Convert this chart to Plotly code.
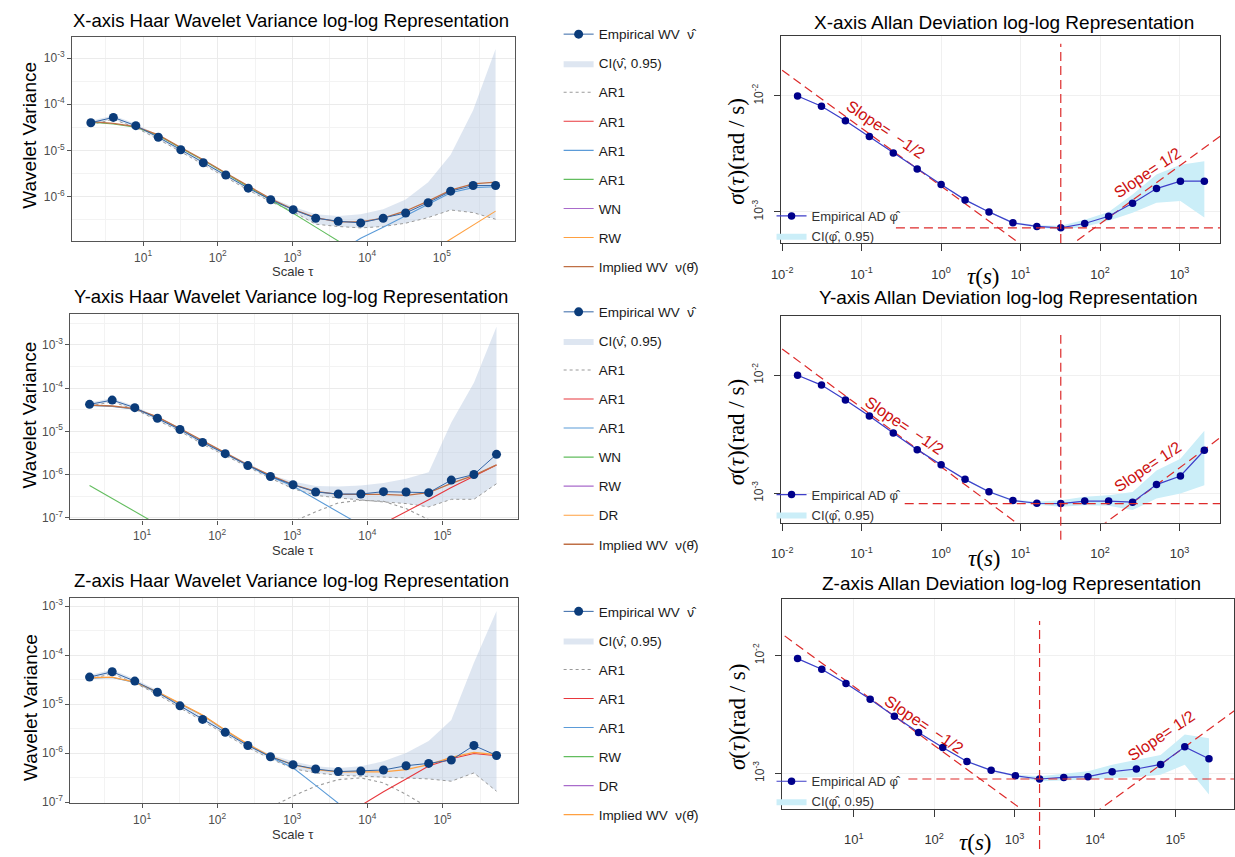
import math
import plotly.graph_objects as go

W, H = 1235, 857


def fx(p):
    """pixel column -> paper x"""
    return p / W


def fy(p):
    """pixel row -> paper y"""
    return 1 - p / H


SANS = "Liberation Sans, Arial, sans-serif"
SERIF = "Liberation Serif, Times New Roman, serif"

# ------------------------------------------------------------------
# Haar wavelet variance (left column)
# ------------------------------------------------------------------
scales = [2, 4, 8, 16, 32, 64, 128, 256, 512, 1024, 2048, 4096, 8192,
          16384, 32768, 65536, 131072, 262144, 524288]

# X axis gyro
wvx_emp = [3.98e-5, 5.19e-5, 3.43e-5, 1.92e-5, 1.03e-5, 5.39e-6, 2.92e-6, 1.51e-6, 8.46e-7,
           5.15e-7, 3.36e-7, 2.89e-7, 2.66e-7, 3.36e-7, 4.37e-7, 7.29e-7, 1.30e-6, 1.72e-6, 1.72e-6]
wvx_lo = [3.61e-5, 4.70e-5, 3.11e-5, 1.74e-5, 9.29e-6, 4.89e-6, 2.65e-6, 1.37e-6, 7.66e-7,
          4.67e-7, 2.49e-7, 2.22e-7, 2.07e-7, 2.22e-7, 2.62e-7, 3.47e-7, 5.07e-7, 4.45e-7, 3.19e-7]
wvx_hi = [4.40e-5, 5.73e-5, 3.79e-5, 2.12e-5, 1.13e-5, 5.96e-6, 3.23e-6, 1.67e-6, 9.33e-7,
          5.98e-7, 4.09e-7, 3.77e-7, 4.09e-7, 5.24e-7, 8.61e-7, 2.03e-6, 8.02e-6, 7.46e-5, 1.59e-3]
wvx_implied = [4.19e-5, 3.85e-5, 3.27e-5, 2.16e-5, 1.15e-5, 6.25e-6, 3.23e-6, 1.67e-6, 8.89e-7,
               5.24e-7, 3.47e-7, 2.80e-7, 2.80e-7, 3.36e-7, 4.82e-7, 7.93e-7, 1.37e-6, 1.87e-6, 2.03e-6]
wvx_ar1_a = [None] * 11 + [3.0e-8, 5.0e-8, 7.0e-8, 8.0e-8, 7.0e-8, 5.0e-8, None, None]
wvx_ar1_b = [None] * 6 + [2.0e-8, 3.5e-8, 5.0e-8, 5.5e-8, 4.5e-8, 3.0e-8] + [None] * 7
wvx_ar1_c = [None] * 10 + [3.1e-8, 6.2e-8, 1.23e-7, 2.15e-7, 3.83e-7, 6.93e-7, 1.20e-6, 1.55e-6, 1.62e-6]
wvx_ar1_d = [4.07e-5, 3.73e-5, 3.17e-5, 2.10e-5, 1.12e-5, 6.06e-6, 3.13e-6, 1.62e-6, 8.51e-7,
             4.30e-7, 2.15e-7, 1.07e-7, 5.4e-8, 2.7e-8] + [None] * 5
wvx_wn = [6.0e-8, 3.0e-8, 1.5e-8] + [None] * 16
wvx_rw = [None] * 14 + [2.9e-8, 5.8e-8, 1.15e-7, 2.37e-7, 4.79e-7]

# Y axis gyro
wvy_emp = [4.20e-5, 5.27e-5, 3.52e-5, 2.00e-5, 1.10e-5, 5.53e-6, 3.04e-6, 1.61e-6, 9.01e-7,
           5.80e-7, 3.94e-7, 3.54e-7, 3.54e-7, 4.01e-7, 3.94e-7, 3.80e-7, 7.43e-7, 1.00e-6, 2.93e-6]
wvy_lo = [3.83e-5, 4.80e-5, 3.21e-5, 1.82e-5, 1.00e-5, 5.04e-6, 2.77e-6, 1.47e-6, 8.20e-7,
          4.70e-7, 3.30e-7, 2.87e-7, 2.54e-7, 2.32e-7, 2.13e-7, 1.78e-7, 2.67e-7, 2.67e-7, 6.12e-7]
wvy_hi = [4.62e-5, 5.80e-5, 3.87e-5, 2.20e-5, 1.21e-5, 6.08e-6, 3.34e-6, 1.77e-6, 9.90e-7,
          6.92e-7, 5.41e-7, 5.31e-7, 5.60e-7, 6.34e-7, 7.96e-7, 1.13e-6, 1.60e-5, 1.32e-4, 2.64e-3]
wvy_implied = [4.05e-5, 3.85e-5, 3.33e-5, 2.15e-5, 1.16e-5, 6.04e-6, 3.26e-6, 1.67e-6, 9.51e-7,
               5.81e-7, 4.08e-7, 3.48e-7, 3.48e-7, 3.48e-7, 3.30e-7, 3.80e-7, 6.22e-7, 9.51e-7, 1.67e-6]
wvy_ar1_a = [None] * 8 + [4.0e-8, 8.1e-8, 1.37e-7, 2.20e-7, 2.54e-7, 2.40e-7, 1.63e-7, 9.1e-8, 5.0e-8] + [None] * 2
wvy_ar1_b = [None] * 11 + [2.6e-8, 4.9e-8, 7.4e-8, 1.37e-7, 2.6e-7, 5.0e-7, 9.0e-7, 1.67e-6]
wvy_ar1_c = [3.97e-5, 3.77e-5, 3.26e-5, 2.11e-5, 1.13e-5, 5.90e-6, 3.17e-6, 1.62e-6, 8.90e-7,
             5.40e-7, 2.70e-7, 1.35e-7, 6.8e-8] + [None] * 6
wvy_wn = [5.6e-7, 2.8e-7, 1.4e-7, 7.0e-8, 3.5e-8] + [None] * 14
wvy_rw = [None] * 16 + [2.0e-8, 4.0e-8, 8.0e-8]
wvy_dr = [None] * 17 + [1.5e-8, 6.0e-8]

# Z axis gyro
wvz_emp = [3.55e-5, 4.55e-5, 2.94e-5, 1.74e-5, 9.20e-6, 4.87e-6, 2.65e-6, 1.43e-6, 8.44e-7,
           5.80e-7, 4.74e-7, 4.19e-7, 4.32e-7, 4.52e-7, 5.53e-7, 6.17e-7, 7.21e-7, 1.43e-6, 8.95e-7]
wvz_lo = [3.23e-5, 4.14e-5, 2.68e-5, 1.58e-5, 8.37e-6, 4.43e-6, 2.41e-6, 1.30e-6, 7.68e-7,
          4.81e-7, 3.94e-7, 3.53e-7, 3.37e-7, 3.26e-7, 3.12e-7, 2.97e-7, 2.67e-7, 3.94e-7, 1.67e-7]
wvz_hi = [3.91e-5, 5.00e-5, 3.23e-5, 1.91e-5, 1.01e-5, 5.36e-6, 2.92e-6, 1.57e-6, 9.28e-7,
          6.78e-7, 5.37e-7, 4.97e-7, 5.37e-7, 6.78e-7, 1.00e-6, 1.77e-6, 4.72e-6, 7.00e-5, 7.92e-4]
wvz_implied = [3.44e-5, 3.55e-5, 2.81e-5, 1.77e-5, 1.03e-5, 5.96e-6, 2.96e-6, 1.52e-6, 8.55e-7,
               5.80e-7, 4.59e-7, 4.12e-7, 4.12e-7, 4.12e-7, 4.59e-7, 5.80e-7, 8.17e-7, 1.03e-6, 9.25e-7]
wvz_ar1_a = [None] * 7 + [3.5e-8, 7.8e-8, 1.33e-7, 2.11e-7, 2.88e-7, 3.12e-7, 2.47e-7, 1.44e-7, 7.7e-8, 3.5e-8] + [None] * 2
wvz_ar1_b = [None] * 11 + [4.5e-8, 8.7e-8, 1.62e-7, 2.97e-7, 5.45e-7, 7.67e-7, 9.8e-7, 8.8e-7]
wvz_ar1_c = [3.37e-5, 3.48e-5, 2.75e-5, 1.73e-5, 1.01e-5, 5.84e-6, 2.90e-6, 1.49e-6, 8.30e-7,
             5.00e-7, 2.19e-7, 9.5e-8, 4.5e-8] + [None] * 6
wvz_rw = [None] * 16 + [1.5e-8, 3.0e-8, 6.0e-8]
wvz_dr = [None] * 17 + [1.0e-8, 4.0e-8]

# ------------------------------------------------------------------
# Allan deviation (right column)
# ------------------------------------------------------------------
ad_tau = [0.015625, 0.03125, 0.0625, 0.125, 0.25, 0.5, 1, 2, 4, 8, 16, 32, 64, 128,
          256, 512, 1024, 2048]
adz_tau = [2, 4, 8, 16, 32, 64, 128, 256, 512, 1024, 2048, 4096, 8192, 16384, 32768,
           65536, 131072, 262144]

adx = [0.0100, 0.00816, 0.00611, 0.00446, 0.00322, 0.00234, 0.00172, 0.00127, 0.00100,
       0.000805, 0.000750, 0.000730, 0.000794, 0.000918, 0.001186, 0.00159, 0.00184, 0.00184]
adx_lo = [0.00992, 0.00809, 0.00605, 0.00441, 0.00318, 0.00231, 0.00170, 0.00125, 0.000985,
          0.000789, 0.000735, 0.000702, 0.000745, 0.000838, 0.000986, 0.001202, 0.001241, 0.000896]
adx_hi = [0.01008, 0.00823, 0.00617, 0.00451, 0.00326, 0.00237, 0.00174, 0.00129, 0.001015,
          0.000821, 0.000767, 0.000759, 0.000855, 0.001000, 0.001416, 0.002099, 0.002553, 0.002729]

ady = [0.0100, 0.00824, 0.00617, 0.00452, 0.00323, 0.00234, 0.00174, 0.00131, 0.00103,
       0.000867, 0.000822, 0.000816, 0.000857, 0.000857, 0.000840, 0.001183, 0.001400, 0.002313]
ady_lo = [0.00992, 0.00817, 0.00611, 0.00447, 0.00319, 0.00231, 0.00172, 0.00129, 0.00101,
          0.000850, 0.000800, 0.000767, 0.000792, 0.000783, 0.000719, 0.000902, 0.000993, 0.001167]
ady_hi = [0.01008, 0.00831, 0.00623, 0.00457, 0.00327, 0.00237, 0.00176, 0.00133, 0.00105,
          0.000884, 0.000845, 0.000873, 0.000931, 0.000962, 0.001026, 0.00156, 0.001954, 0.00338]

adz = [0.00944, 0.00767, 0.00581, 0.00426, 0.00306, 0.00222, 0.00166, 0.00126, 0.00106,
       0.000955, 0.000895, 0.000924, 0.000937, 0.001033, 0.001088, 0.001191, 0.001679, 0.001330]
adz_lo = [0.00936, 0.00760, 0.00575, 0.00421, 0.00302, 0.00219, 0.00164, 0.00124, 0.00104,
          0.000935, 0.000857, 0.000868, 0.000885, 0.000914, 0.000925, 0.000975, 0.001184, 0.000661]
adz_hi = [0.00952, 0.00774, 0.00587, 0.00431, 0.00310, 0.00225, 0.00168, 0.00128, 0.00108,
          0.000975, 0.000944, 0.000987, 0.001040, 0.001184, 0.001303, 0.001435, 0.002143, 0.001986]

# coefficients of the slope -1/2 (white noise) and +1/2 (rate random walk) guide lines
arw_coef = {"x": 0.001667, "y": 0.00167, "z": 0.0173}
rrw_coef = {"x": 7.9e-5, "y": 5.19e-5, "z": 4.62e-6}
arw_span = {"x": [0.01, 100], "y": [0.01, 100], "z": [1, 1e4]}
rrw_span = {"x": [10, 1e4], "y": [10, 1e4], "z": [1e3, 1e6]}

# ------------------------------------------------------------------
C_EMP_M = "#0B3C7A"
C_EMP_L = "#3566A6"
C_CI = "rgba(176,196,222,0.42)"
C_GRAY = "#9a9a9a"
C_RED = "#E8373D"
C_BLUE = "#5B9BD8"
C_GREEN = "#62BD5E"
C_PURPLE = "#A96BCB"
C_ORANGE = "#FFA040"
C_BROWN = "#BF6F45"

C_AD_L = "#3E3EC9"
C_AD_M = "#00008B"
C_AD_CI = "#CBEEF8"
C_DASH = "#DD2B2B"
C_SLOPE_TXT = "#CC1111"

fig = go.Figure()


def ids(n):
    return ("x", "y") if n == 1 else (f"x{n}", f"y{n}")


def wv_panel(n, leg, emp, lo, hi, parts, implied, implied_color):
    xa, ya = ids(n)
    g = f"{leg}-ci"
    fig.add_trace(go.Scatter(x=scales, y=lo, mode="lines", xaxis=xa, yaxis=ya,
                             line=dict(color=C_GRAY, width=1, dash="dot"),
                             showlegend=False, legend=leg, legendgroup=g, hoverinfo="skip"))
    fig.add_trace(go.Scatter(x=scales, y=hi, mode="lines", xaxis=xa, yaxis=ya,
                             line=dict(width=0, color=C_CI), fill="tonexty", fillcolor=C_CI,
                             name="CI(ν̂, 0.95)", legend=leg, legendgroup=g, legendrank=2))
    for i, (name, color, vals, dash) in enumerate(parts):
        fig.add_trace(go.Scatter(x=scales, y=vals, mode="lines", xaxis=xa, yaxis=ya,
                                 line=dict(color=color, width=1.1, dash=dash),
                                 name=name, legend=leg, legendgroup=f"{leg}-p{i}",
                                 legendrank=3 + i))
    fig.add_trace(go.Scatter(x=scales, y=implied, mode="lines", xaxis=xa, yaxis=ya,
                             line=dict(color=implied_color, width=1.3),
                             name="Implied WV  ν(θ̂)", legend=leg, legendgroup=f"{leg}-imp",
                             legendrank=20))
    fig.add_trace(go.Scatter(x=scales, y=emp, mode="lines+markers", xaxis=xa, yaxis=ya,
                             line=dict(color=C_EMP_L, width=1),
                             marker=dict(color=C_EMP_M, size=9),
                             name="Empirical WV  ν̂", legend=leg, legendgroup=f"{leg}-emp",
                             legendrank=1))


def ad_panel(n, leg, key, tau, vals, lo, hi):
    xa, ya = ids(n)
    fig.add_trace(go.Scatter(x=tau, y=lo, mode="lines", xaxis=xa, yaxis=ya,
                             line=dict(width=0, color=C_AD_CI), showlegend=False,
                             legend=leg, hoverinfo="skip"))
    fig.add_trace(go.Scatter(x=tau, y=hi, mode="lines", xaxis=xa, yaxis=ya,
                             line=dict(width=0, color=C_AD_CI), fill="tonexty",
                             fillcolor=C_AD_CI, name="CI(φ̂, 0.95)", legend=leg, legendrank=2))
    a = arw_coef[key]
    t = arw_span[key]
    fig.add_trace(go.Scatter(x=t, y=[a * v ** -0.5 for v in t], mode="lines",
                             xaxis=xa, yaxis=ya, showlegend=False,
                             line=dict(color=C_DASH, width=1.2, dash="9px,5px")))
    b = rrw_coef[key]
    t = rrw_span[key]
    fig.add_trace(go.Scatter(x=t, y=[b * v ** 0.5 for v in t], mode="lines",
                             xaxis=xa, yaxis=ya, showlegend=False,
                             line=dict(color=C_DASH, width=1.2, dash="9px,5px")))
    fig.add_trace(go.Scatter(x=tau, y=vals, mode="lines+markers", xaxis=xa, yaxis=ya,
                             line=dict(color=C_AD_L, width=1.2),
                             marker=dict(color=C_AD_M, size=7.5),
                             name="Empirical AD φ̂", legend=leg, legendrank=1))


wv_panel(1, "legend", wvx_emp, wvx_lo, wvx_hi,
         [("AR1", C_GRAY, wvx_ar1_a, "dot"), ("AR1", C_RED, wvx_ar1_b, "solid"),
          ("AR1", C_BLUE, wvx_ar1_c, "solid"), ("AR1", C_GREEN, wvx_ar1_d, "solid"),
          ("WN", C_PURPLE, wvx_wn, "solid"), ("RW", C_ORANGE, wvx_rw, "solid")],
         wvx_implied, C_BROWN)
wv_panel(3, "legend3", wvy_emp, wvy_lo, wvy_hi,
         [("AR1", C_GRAY, wvy_ar1_a, "dot"), ("AR1", C_RED, wvy_ar1_b, "solid"),
          ("AR1", C_BLUE, wvy_ar1_c, "solid"), ("WN", C_GREEN, wvy_wn, "solid"),
          ("RW", C_PURPLE, wvy_rw, "solid"), ("DR", C_ORANGE, wvy_dr, "solid")],
         wvy_implied, C_BROWN)
wv_panel(5, "legend5", wvz_emp, wvz_lo, wvz_hi,
         [("AR1", C_GRAY, wvz_ar1_a, "dot"), ("AR1", C_RED, wvz_ar1_b, "solid"),
          ("AR1", C_BLUE, wvz_ar1_c, "solid"), ("RW", C_GREEN, wvz_rw, "solid"),
          ("DR", C_PURPLE, wvz_dr, "solid")],
         wvz_implied, C_ORANGE)

ad_panel(2, "legend2", "x", ad_tau, adx, adx_lo, adx_hi)
ad_panel(4, "legend4", "y", ad_tau, ady, ady_lo, ady_hi)
ad_panel(6, "legend6", "z", adz_tau, adz, adz_lo, adz_hi)

# ------------------------------------------------------------------
# axes
# ------------------------------------------------------------------
def sup_labels(exps):
    return [f"10<sup>{e}</sup>" for e in exps]


layout = dict(width=W, height=H, margin=dict(l=0, r=0, t=0, b=0),
              paper_bgcolor="white", plot_bgcolor="white", showlegend=True,
              font=dict(family=SANS, color="#1a1a1a"))

# left column panel boxes (pixels): left, right, top, bottom, x-range, y-range
wv_boxes = {
    1: (61.7, 509.0, 36.0, 242.0, [0.05, 5.98], [-6.969, -2.533]),
    3: (60.0, 512.3, 315.7, 522.7, [0.046, 6.01], [-7.039, -2.289]),
    5: (60.0, 512.3, 601.7, 808.7, [0.046, 6.01], [-7.02, -2.832]),
}
for n, (l, r, t, b, xr, yr) in wv_boxes.items():
    xa, ya = ids(n)
    xk = "xaxis" if n == 1 else f"xaxis{n}"
    yk = "yaxis" if n == 1 else f"yaxis{n}"
    ex = list(range(1, 6))
    ey = [e for e in range(-7, -2) if yr[0] <= e <= yr[1]]
    layout[xk] = dict(
        type="log", domain=[fx(l), fx(r)], range=xr, anchor=ya,
        tickvals=[10 ** e for e in ex], ticktext=sup_labels(ex),
        showline=True, mirror=True, linecolor="#555555", linewidth=1.2,
        ticks="outside", ticklen=4, tickcolor="#555555", ticklabelstandoff=1,
        tickfont=dict(family=SANS, size=12, color="#4d4d4d"),
        showgrid=True, gridcolor="#EBEBEB", gridwidth=1, zeroline=False,
        minor=dict(tickvals=[10 ** (e + 0.5) for e in range(0, 6)], showgrid=True,
                   gridcolor="#F3F3F3", gridwidth=0.8, ticks=""))
    layout[yk] = dict(
        type="log", domain=[fy(b), fy(t)], range=yr, anchor=xa,
        tickvals=[10 ** e for e in ey], ticktext=sup_labels(ey),
        showline=True, mirror=True, linecolor="#555555", linewidth=1.2,
        ticks="outside", ticklen=4, tickcolor="#555555",
        tickfont=dict(family=SANS, size=12, color="#4d4d4d"),
        showgrid=True, gridcolor="#EBEBEB", gridwidth=1, zeroline=False,
        minor=dict(tickvals=[10 ** (e + 0.5) for e in range(-8, -2)], showgrid=True,
                   gridcolor="#F3F3F3", gridwidth=0.8, ticks=""))

ad_boxes = {
    2: (778.0, 1221.0, 35.5, 244.0, [-2.009, 3.51], [-3.268, -1.485], list(range(-2, 4))),
    4: (778.0, 1221.0, 317.3, 526.0, [-2.009, 3.51], [-3.25, -1.496], list(range(-2, 4))),
    6: (778.3, 1235.0, 602.7, 814.3, [0.104, 5.73], [-3.30, -1.517], list(range(1, 6))),
}
for n, (l, r, t, b, xr, yr, ex) in ad_boxes.items():
    xa, ya = ids(n)
    layout[f"xaxis{n}"] = dict(
        type="log", domain=[fx(l), fx(r)], range=xr, anchor=ya,
        tickvals=[10 ** e for e in ex], ticktext=sup_labels(ex),
        showline=True, mirror=True, linecolor="#3a3a3a", linewidth=1.3,
        ticks="outside", ticklen=7, tickcolor="#3a3a3a", ticklabelstandoff=12,
        tickfont=dict(family=SANS, size=13, color="#333333"),
        showgrid=True, gridcolor="#F0F0F0", gridwidth=1, zeroline=False)
    layout[f"yaxis{n}"] = dict(
        type="log", domain=[fy(b), fy(t)], range=yr, anchor=xa,
        tickvals=[1e-3, 1e-2], ticktext=sup_labels([-3, -2]), tickangle=-90,
        showline=True, mirror=True, linecolor="#3a3a3a", linewidth=1.3,
        ticks="outside", ticklen=6, tickcolor="#3a3a3a", ticklabelstandoff=6,
        tickfont=dict(family=SANS, size=12, color="#333333"),
        showgrid=True, gridcolor="#F0F0F0", gridwidth=1, zeroline=False)

# ------------------------------------------------------------------
# legends
# ------------------------------------------------------------------
wv_leg = dict(xanchor="left", yanchor="top", bgcolor="rgba(0,0,0,0)",
              font=dict(family=SANS, size=13.5, color="#1a1a1a"),
              traceorder="grouped", tracegroupgap=8.5, itemwidth=30)
layout["legend"] = dict(wv_leg, x=fx(553), y=fy(18))
layout["legend3"] = dict(wv_leg, x=fx(553), y=fy(298))
layout["legend5"] = dict(wv_leg, x=fx(553), y=fy(600))

ad_leg = dict(xanchor="left", yanchor="bottom", bgcolor="rgba(0,0,0,0)",
              font=dict(family=SANS, size=13, color="#333333"),
              traceorder="normal", itemwidth=30)
layout["legend2"] = dict(ad_leg, x=fx(768), y=fy(252))
layout["legend4"] = dict(ad_leg, x=fx(768), y=fy(533))
layout["legend6"] = dict(ad_leg, x=fx(768), y=fy(822))

fig.update_layout(**layout)

# ------------------------------------------------------------------
# reference lines at the minimum of each Allan deviation curve
# ------------------------------------------------------------------
ad_sets = {
    2: (ad_tau, adx, 0.261, 43.0, 244.0),
    4: (ad_tau, ady, 0.281, 336.7, 543.3),
    6: (adz_tau, adz, 0.280, 625.0, 855.0),
}
for n, (tau, vals, hstart, vtop, vbot) in ad_sets.items():
    xr = ad_boxes[n][4]
    yr = ad_boxes[n][5]
    i_min = vals.index(min(vals))
    xf = (math.log10(tau[i_min]) - xr[0]) / (xr[1] - xr[0])
    yf = (math.log10(vals[i_min]) - yr[0]) / (yr[1] - yr[0])
    fig.add_shape(type="line", xref=f"x{n} domain", yref="paper",
                  x0=xf, x1=xf, y0=fy(vbot), y1=fy(vtop),
                  line=dict(color=C_DASH, width=1.2, dash="9px,5px"))
    fig.add_shape(type="line", xref=f"x{n} domain", yref=f"y{n} domain",
                  x0=hstart, x1=1.0, y0=yf, y1=yf,
                  line=dict(color=C_DASH, width=1.2, dash="9px,5px"))

# ------------------------------------------------------------------
# text
# ------------------------------------------------------------------
def label(text, x, y, size, angle=0, family=SANS, color="#000000"):
    fig.add_annotation(text=text, x=fx(x), y=fy(y), xref="paper", yref="paper",
                       showarrow=False, textangle=angle, xanchor="center", yanchor="middle",
                       font=dict(family=family, size=size, color=color))


label("X-axis Haar Wavelet Variance log-log Representation", 283, 20, 18.5)
label("Y-axis Haar Wavelet Variance log-log Representation", 283, 298, 18.5)
label("Z-axis Haar Wavelet Variance log-log Representation", 283, 584, 18.5)
label("X-axis Allan Deviation log-log Representation", 1003, 22, 19)
label("Y-axis Allan Deviation log-log Representation", 1007, 299, 19)
label("Z-axis Allan Deviation log-log Representation", 1010, 587, 19)

for yc in (135, 417, 712):
    label("Wavelet Variance", 19, yc, 19, angle=-90)
for yc in (273, 554, 840):
    label("Scale τ", 285, yc, 13, color="#333333")

for yc in (152, 435, 722):
    label("<i>σ</i>(<i>τ</i>)(rad / s)", 733, yc, 23, angle=-90, family=SERIF)
for xc, yc in ((982, 278), (983, 562), (974, 848)):
    label("<i>τ</i>(<i>s</i>)", xc, yc, 23, family=SERIF)

for x, y in ((883, 130), (902, 428), (922, 729)):
    label("Slope=  −1/2", x, y, 16, angle=34, color=C_SLOPE_TXT)
for x, y in ((1148, 173), (1148, 469), (1162, 741)):
    label("Slope= 1/2", x, y, 16, angle=-34, color=C_SLOPE_TXT)

fig.write_html("out.html")
